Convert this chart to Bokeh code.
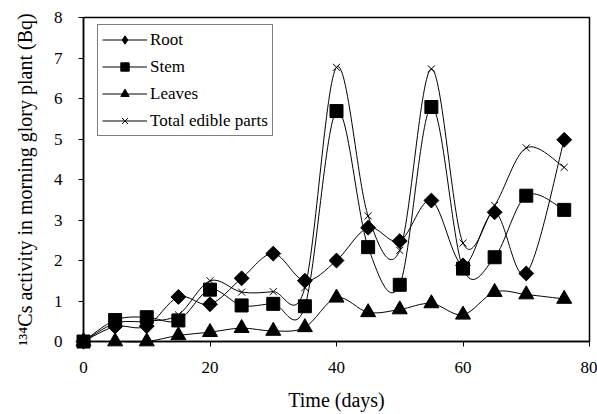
import numpy as np
from bokeh.plotting import figure
from bokeh.models import Legend, LegendItem, FixedTicker, Range1d
from bokeh.embed import file_html
from bokeh.resources import INLINE

days = [0, 5, 10, 15, 20, 25, 30, 35, 40, 45, 50, 55, 60, 65, 70, 76]
root = [0, 0.37, 0.38, 1.1, 0.92, 1.56, 2.17, 1.5, 2.0, 2.81, 2.48, 3.48, 1.88, 3.19, 1.68, 4.98]
stem = [0, 0.53, 0.6, 0.52, 1.28, 0.89, 0.93, 0.87, 5.69, 2.33, 1.4, 5.79, 1.8, 2.08, 3.6, 3.25]
leaves = [0, 0, 0, 0.15, 0.23, 0.33, 0.26, 0.35, 1.08, 0.72, 0.79, 0.94, 0.66, 1.22, 1.16, 1.05]
total = [0, 0.45, 0.5, 0.66, 1.5, 1.22, 1.23, 1.33, 6.77, 3.1, 2.25, 6.73, 2.43, 3.36, 4.78, 4.3]

x_ticks = [0, 20, 40, 60, 80]
y_ticks = [0, 1, 2, 3, 4, 5, 6, 7, 8]

FONT = "Liberation Serif"

p = figure(width=597, height=414, output_backend="svg", toolbar_location=None,
           x_range=Range1d(0, 80), y_range=Range1d(0, 8))
p.min_border_left = 83
p.min_border_right = 8
p.min_border_top = 17
p.min_border_bottom = 73
p.grid.visible = False
p.outline_line_color = "black"
p.outline_line_width = 1.5
p.background_fill_color = "white"
p.border_fill_color = "white"

p.xaxis.ticker = FixedTicker(ticks=x_ticks)
p.yaxis.ticker = FixedTicker(ticks=y_ticks)
for ax in (p.xaxis, p.yaxis):
    ax.axis_line_width = 1.5
    ax.axis_line_color = "black"
    ax.major_tick_line_color = "black"
    ax.major_tick_line_width = 1
    ax.major_tick_out = 5
    ax.major_tick_in = 0
    ax.minor_tick_line_color = None
    ax.major_label_text_font = FONT
    ax.major_label_text_font_size = "17px"
    ax.major_label_text_color = "black"
    ax.axis_label_text_font = FONT
    ax.axis_label_text_font_style = "normal"
    ax.axis_label_text_font_size = "20px"
    ax.axis_label_text_color = "black"

p.xaxis.axis_label = "Time (days)"
p.yaxis.axis_label = "\u00b9\u00b3\u2074Cs activity in morning glory plant (Bq)"
p.xaxis.major_label_standoff = 15
p.yaxis.major_label_standoff = 16
p.yaxis.major_label_text_align = "right"
p.xaxis.axis_label_standoff = 13
p.yaxis.axis_label_standoff = 15


def smooth(xs, ys):
    x = np.asarray(xs, dtype=float)
    y = np.asarray(ys, dtype=float)
    n = len(x)
    xp = np.concatenate([[x[0]], x, [x[-1]]])
    yp = np.concatenate([[y[0]], y, [y[-1]]])
    x0, y0 = x[:-1], y[:-1]
    x1, y1 = x[1:], y[1:]
    cx0 = x0 + (xp[2:n + 1] - xp[0:n - 1]) / 6
    cy0 = y0 + (yp[2:n + 1] - yp[0:n - 1]) / 6
    cx1 = x1 - (xp[3:n + 2] - xp[1:n]) / 6
    cy1 = y1 - (yp[3:n + 2] - yp[1:n]) / 6
    return dict(x0=x0, y0=y0, x1=x1, y1=y1, cx0=cx0, cy0=cy0, cx1=cx1, cy1=cy1)


series = [
    ("Root", root, dict(marker="square", size=10.5, angle=np.pi / 4), "diamond"),
    ("Stem", stem, dict(marker="square", size=13), "square"),
    ("Leaves", leaves, dict(marker="triangle", size=15), "triangle"),
    ("Total edible parts", total, dict(marker="x", size=10), "x"),
]

for label, vals, mk, lm in series:
    p.bezier(**smooth(days, vals), line_color="black", line_width=1, level="overlay")

items = []
for label, vals, mk, lm in series:
    p.scatter(x=days, y=vals, fill_color="black", line_color="black",
              line_width=1, level="overlay", **mk)
    dummy_line = p.line(x=[np.nan, np.nan], y=[np.nan, np.nan], line_color="black", line_width=1)
    dummy_mk = p.scatter(x=[np.nan], y=[np.nan], marker=lm, fill_color="black",
                         line_color="black", line_width=1)
    items.append(LegendItem(label=label, renderers=[dummy_line, dummy_mk]))

legend = Legend(items=items, location=(14, 205))
legend.label_text_font = FONT
legend.label_text_font_size = "17px"
legend.label_text_color = "black"
legend.glyph_width = 45
legend.glyph_height = 21
legend.label_height = 21
legend.spacing = 6
legend.padding = 4
legend.label_standoff = 3
legend.margin = 0
legend.border_line_color = "black"
legend.border_line_width = 1.5
legend.background_fill_color = "white"
legend.background_fill_alpha = 1
p.add_layout(legend, "center")

open("out.html", "w").write(file_html(p, INLINE))
